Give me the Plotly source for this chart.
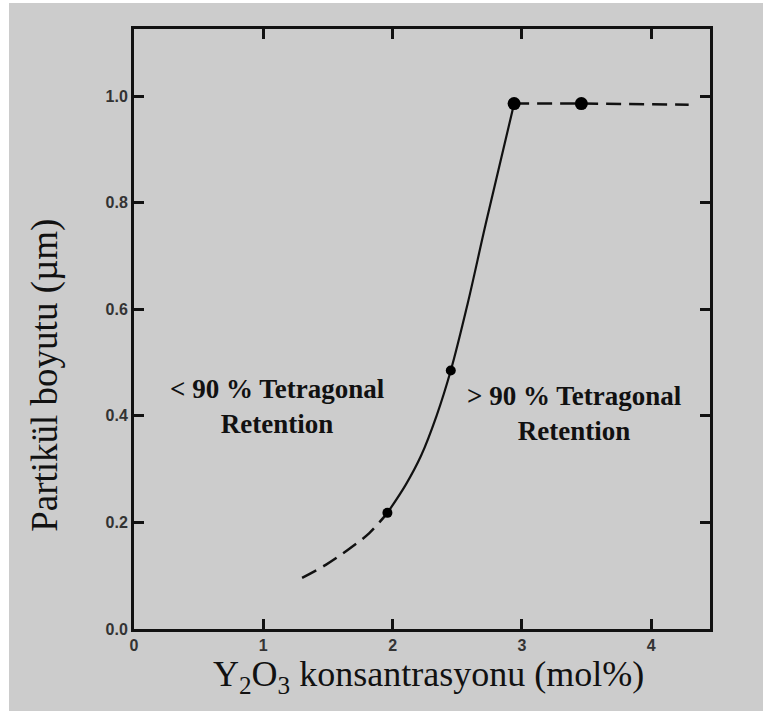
import plotly.graph_objects as go

# Measured points (Y2O3 mol% vs. particle size in µm)
pts_x = [1.96, 2.45, 2.94, 3.46]
pts_y = [0.218, 0.485, 0.986, 0.986]

# Extrapolated low-concentration branch (dashed)
low_x = [1.30, 1.48, 1.65, 1.82, 1.96]
low_y = [0.096, 0.120, 0.148, 0.180, 0.218]

# Fitted rise through the measurements (solid)
mid_x = [1.96, 2.10, 2.22, 2.34, 2.45, 2.58, 2.72, 2.94]
mid_y = [0.218, 0.270, 0.325, 0.400, 0.485, 0.610, 0.760, 0.986]

# Plateau above 3 mol% (dashed)
top_x = [2.94, 3.46, 4.29]
top_y = [0.986, 0.986, 0.984]

x_ticks = [0, 1, 2, 3, 4]
y_ticks = [0.0, 0.2, 0.4, 0.6, 0.8, 1.0]

ink = "#111111"
bg = "#cccccc"

fig = go.Figure()
fig.add_trace(go.Scatter(x=low_x, y=low_y, mode="lines", line_shape="spline",
                         line=dict(color=ink, width=2.5, dash="16px,8px")))
fig.add_trace(go.Scatter(x=mid_x, y=mid_y, mode="lines", line_shape="spline",
                         line=dict(color=ink, width=2.2)))
fig.add_trace(go.Scatter(x=top_x, y=top_y, mode="lines",
                         line=dict(color=ink, width=2.5, dash="15px,8px")))
fig.add_trace(go.Scatter(x=pts_x, y=pts_y, mode="markers", opacity=1,
                         marker=dict(color="#000000", size=[10, 10, 13, 13],
                                     opacity=1, line=dict(width=0))))

serif = "Liberation Serif, Times New Roman, serif"

fig.add_annotation(x=1.106, y=0.418, xref="x", yref="y", showarrow=False,
                   text="<b>&lt; 90 % Tetragonal<br>Retention</b>",
                   font=dict(family=serif, size=27, color="#111"), align="center")
fig.add_annotation(x=3.41, y=0.405, xref="x", yref="y", showarrow=False,
                   text="<b>&gt; 90 % Tetragonal<br>Retention</b>",
                   font=dict(family=serif, size=27, color="#111"), align="center")

# Axis titles
fig.add_annotation(x=0.512, y=-0.079, xref="paper", yref="paper", showarrow=False,
                   text="Y<sub>2</sub>O<sub>3</sub> konsantrasyonu (mol%)",
                   xanchor="center", yanchor="middle",
                   font=dict(family=serif, size=36, color="#111"))
fig.add_annotation(x=-0.1545, y=0.422, xref="paper", yref="paper", showarrow=False,
                   text="Partikül boyutu (µm)", textangle=-90,
                   xanchor="center", yanchor="middle",
                   font=dict(family=serif, size=37, color="#111"))

# Gray page with a thin white strip on the left and top edges
fig.add_shape(type="rect", xref="paper", yref="paper",
              x0=(9 - 134) / 576, x1=1.2, y0=-0.2, y1=(629 - 3) / 600,
              fillcolor=bg, line_width=0, layer="below")

axis_common = dict(showline=True, linecolor=ink, linewidth=3, mirror="allticks",
                   ticks="inside", ticklen=10, tickwidth=2.5, tickcolor=ink,
                   showgrid=False, zeroline=False,
                   tickfont=dict(family="Liberation Sans, Arial, sans-serif",
                                 size=16, color="#333", weight="bold"))

fig.update_xaxes(range=[0, 4.455], tickvals=x_ticks, ticktext=[str(v) for v in x_ticks],
                 ticklabelstandoff=0, **axis_common)
fig.update_yaxes(range=[0, 1.126], tickvals=y_ticks, tickformat=".1f", **axis_common)

fig.update_layout(width=763, height=711, showlegend=False,
                  margin=dict(l=134, r=53, t=29, b=82),
                  paper_bgcolor="white", plot_bgcolor=bg)

fig.write_html("out.html")
